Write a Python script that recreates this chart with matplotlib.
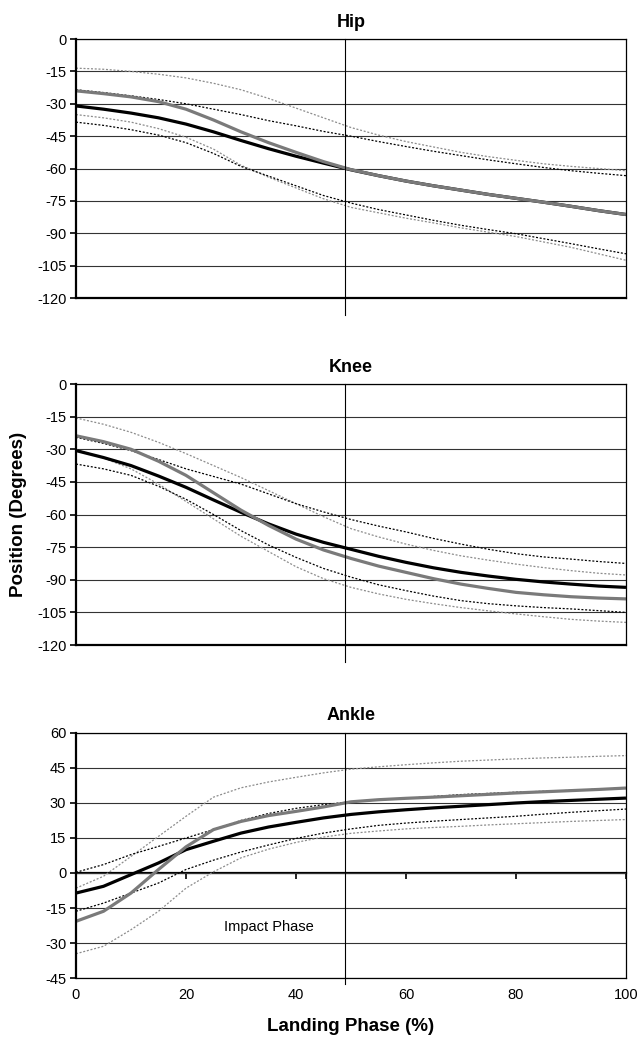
import matplotlib

matplotlib.use("Agg")
import matplotlib.pyplot as plt

plt.rcParams["font.family"] = ["Liberation Sans", "DejaVu Sans"]
plt.rcParams["axes.unicode_minus"] = False

# landing phase (%), sampled every 5 %
phase = [0, 5, 10, 15, 20, 25, 30, 35, 40, 45, 50,
         55, 60, 65, 70, 75, 80, 85, 90, 95, 100]

# Hip (degrees)
hip_black = [-31, -32.5, -34.3, -36.5, -39.4, -43, -47, -50.8, -54.3, -57.5, -60.6,
             -63.3, -65.8, -68, -70, -72, -73.8, -75.6, -77.5, -79.5, -81.3]
hip_black_hi = [-23.5, -24.8, -26.3, -28, -30, -32.5, -35, -37.8, -40.2, -42.8, -45,
                -47.5, -49.8, -52, -54, -56, -57.8, -59.5, -61, -62.2, -63.3]
hip_black_lo = [-38.5, -40, -42, -44.5, -48, -53, -59, -63.5, -68, -72.5, -76,
                -79, -81.5, -84, -86.3, -88.3, -90.2, -92.5, -94.8, -97.2, -99.5]
hip_gray = [-24, -25.3, -26.8, -29, -32.5, -37.5, -43, -48, -52.5, -56.8, -60.5,
            -63.3, -65.8, -68, -70, -72, -73.8, -75.6, -77.5, -79.5, -81.3]
hip_gray_hi = [-13.5, -14, -15, -16.3, -18, -20.5, -23.5, -27.5, -32, -36.5, -41,
               -44.5, -47.5, -50, -52.5, -54.5, -56.2, -57.8, -59, -60, -61]
hip_gray_lo = [-35, -36.5, -38.5, -41.5, -45.5, -51, -58.5, -64, -69, -74, -78,
               -80.5, -83, -85.2, -87.5, -89.5, -91.5, -94, -96.5, -99.5, -102.5]

# Knee (degrees)
knee_black = [-30.6, -33.8, -37.5, -42.3, -47.5, -53.3, -59, -64.3, -69, -72.8, -76,
              -79.2, -82, -84.5, -86.6, -88.3, -89.8, -91, -92, -92.9, -93.5]
knee_black_hi = [-24.5, -27.3, -30.6, -34.7, -39, -42.5, -46, -50.5, -55, -58.8, -62.3,
                 -65.3, -68, -71, -73.6, -76, -78, -79.5, -80.5, -81.6, -82.5]
knee_black_lo = [-36.8, -39, -42, -47, -53, -60, -67.4, -74, -79.7, -84.8, -88.8,
                 -92.3, -95, -97.5, -99.6, -101, -102, -102.8, -103.4, -104.2, -105]
knee_gray = [-23.8, -26.5, -30, -35.5, -42, -50, -58, -65, -71.3, -76.3, -80.2,
             -83.7, -86.6, -89.5, -92, -94, -95.8, -96.9, -97.8, -98.4, -98.8]
knee_gray_hi = [-15.6, -18.5, -22.2, -26.8, -32, -37.5, -43, -49, -55, -61, -66.5,
                -70.3, -73.6, -76.5, -79, -81, -82.8, -84.4, -85.8, -87, -87.8]
knee_gray_lo = [-30, -34, -39, -46, -54, -62, -70, -77, -84, -89.5, -93.5,
                -96.5, -99, -101, -102.8, -104.3, -105.7, -107, -108.2, -109, -109.6]

# Ankle (degrees)
ankle_black = [-8.6, -5.7, -0.7, 4.3, 10, 13.6, 17.1, 19.7, 21.7, 23.6, 25.1,
               26.2, 27.1, 27.9, 28.6, 29.3, 30, 30.6, 31.1, 31.6, 32.1]
ankle_black_hi = [0.3, 3.6, 7.9, 11.4, 15, 18.6, 22.5, 25.5, 27.7, 29.3, 30.5,
                  31.3, 32, 32.8, 33.6, 34.1, 34.6, 35, 35.4, 35.9, 36.4]
ankle_black_lo = [-16.4, -12.9, -8.6, -4.3, 1.5, 5.5, 9, 12, 14.8, 17.1, 18.9,
                  20.4, 21.4, 22.2, 22.9, 23.6, 24.3, 25.2, 26, 26.7, 27.4]
ankle_gray = [-20.7, -16.4, -8.6, 1.5, 11.2, 18.6, 22.1, 24.6, 26.4, 28.3, 30.5,
              31.4, 32, 32.5, 33.1, 33.7, 34.3, 34.8, 35.3, 35.8, 36.4]
ankle_gray_hi = [-6.5, -1.4, 7.1, 15.7, 24.3, 32.5, 36.5, 39, 41, 42.9, 44.5,
                 45.5, 46.4, 47.2, 47.9, 48.4, 48.9, 49.3, 49.6, 50, 50.3]
ankle_gray_lo = [-34.6, -31.4, -24.3, -16.4, -6.5, 0.5, 6.5, 10.2, 13.1, 15.4, 17,
                 18, 18.9, 19.5, 20, 20.6, 21.1, 21.6, 22.1, 22.5, 22.9]

impact_end = 49
x_ticks = [0, 20, 40, 60, 80, 100]
joint_yticks = list(range(-120, 1, 15))
ankle_yticks = list(range(-45, 61, 15))

BLACK = "#000000"
GRAY = "#7a7a7a"
LIGHT = "#8c8c8c"
DOT = (0, (1.6, 1.4))


def draw_panel(ax, title, series, yticks, drop):
    black, black_hi, black_lo, gray, gray_hi, gray_lo = series
    ax.set_xlim(0, 100)
    ax.set_ylim(yticks[0], yticks[-1])
    ax.set_yticks(yticks)
    ax.grid(axis="y", color="#333333", lw=0.8)
    ax.set_axisbelow(True)

    ax.plot(phase, gray_hi, color=LIGHT, lw=0.9, ls=DOT)
    ax.plot(phase, gray_lo, color=LIGHT, lw=0.9, ls=DOT)
    ax.plot(phase, black_hi, color=BLACK, lw=0.9, ls=DOT)
    ax.plot(phase, black_lo, color=BLACK, lw=0.9, ls=DOT)
    ax.plot(phase, black, color=BLACK, lw=2.3, solid_capstyle="butt")
    ax.plot(phase, gray, color=GRAY, lw=2.3, solid_capstyle="butt")

    ax.axvline(impact_end, ymin=drop, ymax=1, color=BLACK, lw=0.8, clip_on=False)

    for side in ("top", "right"):
        ax.spines[side].set_linewidth(0.9)
    ax.spines["left"].set_linewidth(1.6)
    ax.tick_params(axis="y", direction="out", length=4, width=1.2, pad=3,
                   labelsize=10.5)
    ax.set_title(title, fontsize=13, fontweight="bold", pad=9)


fig = plt.figure(figsize=(6.37, 10.41), dpi=100)
ax_hip = fig.add_axes([0.1193, 0.7137, 0.8634, 0.2488])
ax_knee = fig.add_axes([0.1193, 0.3804, 0.8634, 0.2507])
ax_ankle = fig.add_axes([0.1193, 0.0605, 0.8634, 0.2354])

draw_panel(ax_hip, "Hip",
           [hip_black, hip_black_hi, hip_black_lo, hip_gray, hip_gray_hi, hip_gray_lo],
           joint_yticks, -0.066)
draw_panel(ax_knee, "Knee",
           [knee_black, knee_black_hi, knee_black_lo, knee_gray, knee_gray_hi, knee_gray_lo],
           joint_yticks, -0.065)
draw_panel(ax_ankle, "Ankle",
           [ankle_black, ankle_black_hi, ankle_black_lo, ankle_gray, ankle_gray_hi, ankle_gray_lo],
           ankle_yticks, -0.025)

for ax in (ax_hip, ax_knee):
    ax.set_xticks([])
    ax.spines["bottom"].set_linewidth(1.6)

# ankle: labels along the bottom, tick marks on the zero line
ax_ankle.set_xticks(x_ticks)
ax_ankle.tick_params(axis="x", length=0, pad=7, labelsize=10.5)
ax_ankle.spines["bottom"].set_linewidth(0.9)
zero_frac = (0 - ankle_yticks[0]) / (ankle_yticks[-1] - ankle_yticks[0])
sec = ax_ankle.secondary_xaxis(zero_frac)
sec.set_xticks(x_ticks)
sec.xaxis.set_ticks_position("bottom")
sec.tick_params(axis="x", direction="out", length=4, width=1.2,
                labelbottom=False, labeltop=False)
for sp in sec.spines.values():
    sp.set_linewidth(1.6)

ax_ankle.text(35, -23, "Impact Phase", fontsize=10.5, ha="center", va="center")
ax_ankle.set_xlabel("Landing Phase (%)", fontsize=13.5, fontweight="bold",
                    labelpad=12)

fig.text(19 / 637, 1 - 514 / 1041, "Position (Degrees)", rotation=90,
         fontsize=13.5, fontweight="bold", ha="center", va="center")

fig.savefig("out.png", dpi=100)
